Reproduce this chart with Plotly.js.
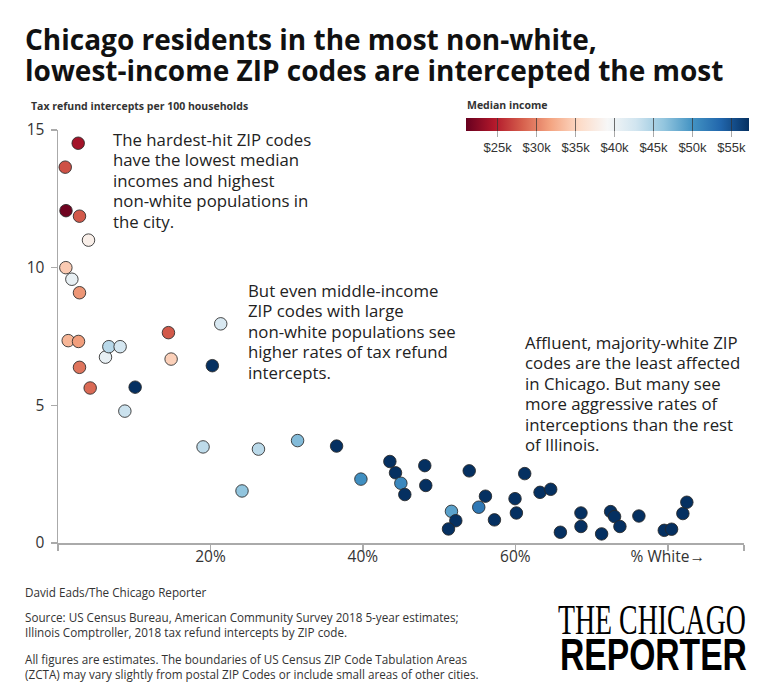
<!DOCTYPE html>
<html>
<head>
<meta charset="utf-8">
<script src="https://cdn.plot.ly/plotly-3.0.1.min.js"></script>
<style>
  html, body { margin: 0; padding: 0; background: #fff; }
  #chart { width: 771px; height: 690px; }
</style>
</head>
<body>
<div id="chart"></div>
<script>
// ---- Data ----
const pctWhite = [
  2.65, 0.95, 1.05, 2.82, 4.0, 1.03, 1.82, 2.82, 1.34, 2.69,
  2.82, 4.22, 6.23, 6.67, 8.15, 8.77, 10.12, 14.49, 14.84, 21.35,
  20.25, 19.03, 24.14, 26.3, 31.43, 36.55, 39.74, 43.54, 44.28, 44.98,
  45.5, 48.12, 48.25, 53.95, 51.62, 52.19, 51.23, 55.2, 56.08, 57.26,
  59.96, 60.14, 61.23, 63.24, 64.64, 65.91, 68.61, 68.61, 71.32, 72.5,
  73.02, 73.72, 76.21, 79.54, 80.5, 81.98, 82.5
];
const interceptsPer100 = [
  14.52, 13.65, 12.07, 11.87, 11.0, 10.0, 9.58, 9.09, 7.35, 7.32,
  6.38, 5.63, 6.75, 7.13, 7.13, 4.79, 5.66, 7.64, 6.68, 7.96,
  6.44, 3.49, 1.89, 3.41, 3.72, 3.52, 2.32, 2.96, 2.55, 2.17,
  1.76, 2.81, 2.09, 2.62, 1.15, 0.81, 0.51, 1.3, 1.70, 0.84,
  1.61, 1.09, 2.52, 1.84, 1.95, 0.39, 1.09, 0.60, 0.33, 1.14,
  0.96, 0.60, 0.98, 0.46, 0.50, 1.07, 1.48
];
const medianIncome = [
  23800, 27400, 21300, 27800, 38000, 34300, 40500, 31000, 32900, 31400,
  29250, 28700, 40500, 44100, 42300, 43000, 57200, 27800, 34700, 42000,
  57200, 43800, 46300, 44000, 47000, 57200, 50300, 57200, 57200, 50800,
  57200, 57200, 57200, 57200, 48900, 57200, 57200, 52100, 57200, 57200,
  57200, 57200, 57200, 57200, 57200, 57200, 57200, 57200, 57200, 57200,
  57200, 57200, 57200, 57200, 57200, 57200, 57200
];
const xTickVals = [0, 20, 40, 60, 80, 90];
const xTickText = ['', '20%', '40%', '60%', '% White\u2192', ''];
const yTickVals = [0, 5, 10, 15];
const incomeTickVals = [25000, 30000, 35000, 40000, 45000, 50000, 55000];
const incomeTickText = ['$25k', '$30k', '$35k', '$40k', '$45k', '$50k', '$55k'];

// ---- Layout helpers (pixel -> paper) ----
const L = 58, R = 744.5, T = 130, B = 542.7;
const W = 771, H = 690;
const px = v => (v - L) / (R - L);
const py = v => (B - v) / (B - T);

const rdbu = [
  [0.0, '#67001f'], [0.1, '#b2182b'], [0.2, '#d6604d'], [0.3, '#f4a582'],
  [0.4, '#fddbc7'], [0.5, '#f7f7f7'], [0.6, '#d1e5f0'], [0.7, '#92c5de'],
  [0.8, '#4393c3'], [0.9, '#2166ac'], [1.0, '#053061']
];

const cbBase = {
  orientation: 'h',
  xref: 'paper', yref: 'paper',
  x: px(607.5), xanchor: 'center',
  y: py(117.7), yanchor: 'top',
  len: 283, lenmode: 'pixels',
  thickness: 12.5, thicknessmode: 'pixels',
  xpad: 0, ypad: 0,
  outlinewidth: 0,
  tickmode: 'array',
  tickvals: incomeTickVals,
  ticktext: incomeTickText,
  tickwidth: 1.5,
  tickfont: { family: 'Liberation Sans, Arial, sans-serif', size: 13, color: '#333' }
};

// Legend-only layer: colour bar with outside ticks and labels (markers hidden)
const legendTrace = {
  type: 'scatter', mode: 'markers',
  x: pctWhite, y: interceptsPer100,
  hoverinfo: 'skip', cliponaxis: false,
  marker: {
    size: 12, opacity: 0, color: medianIncome, colorscale: rdbu,
    cmin: 20900, cmax: 57200, showscale: true,
    colorbar: Object.assign({}, cbBase, {
      ticks: 'outside', ticklen: 6, tickcolor: '#aaa', showticklabels: true
    })
  }
};

const trace = {
  type: 'scatter',
  mode: 'markers',
  x: pctWhite,
  y: interceptsPer100,
  cliponaxis: false,
  hoverinfo: 'skip',
  marker: {
    size: 12.5,
    color: medianIncome,
    colorscale: rdbu,
    cmin: 20900,
    cmax: 57200,
    line: { color: 'rgba(40,40,40,0.85)', width: 1 },
    showscale: true,
    colorbar: Object.assign({}, cbBase, {
      ticks: 'inside', ticklen: 12.5, tickcolor: 'rgba(50,50,50,0.7)', showticklabels: false
    })
  }
};

const textFont = { family: 'Open Sans, sans-serif', size: 16.8, color: '#222' };
const footFont = { family: 'Open Sans, sans-serif', size: 11.7, color: '#333' };

function ann(text, x, y, xanchor, yanchor, font, extra) {
  return Object.assign({
    text: text, xref: 'paper', yref: 'paper', x: x, y: y,
    xanchor: xanchor, yanchor: yanchor, align: 'left',
    showarrow: false, font: font, borderpad: 0
  }, extra || {});
}

const titleFont = { family: 'Open Sans, sans-serif', size: 28, color: '#111', weight: 700 };

const annotations = [
  ann('Chicago residents in the most non-white,', px(24), py(39), 'left', 'middle', titleFont),
  ann('lowest-income ZIP codes are intercepted the most', px(24), py(70), 'left', 'middle', titleFont),
  ann('<b>Tax refund intercepts per 100 households</b>', px(30), py(106), 'left', 'middle',
      { family: 'Open Sans, sans-serif', size: 10.5, color: '#333' }),
  ann('<b>Median income</b>', px(466), py(105), 'left', 'middle',
      { family: 'Open Sans, sans-serif', size: 10.5, color: '#333' }),
  ann('The hardest-hit ZIP codes<br>have the lowest median<br>incomes and highest<br>non-white populations in<br>the city.',
      px(112), py(127.5), 'left', 'top', textFont),
  ann('But even middle-income<br>ZIP codes with large<br>non-white populations see<br>higher rates of tax refund<br>intercepts.',
      px(247), py(277.5), 'left', 'top', textFont),
  ann('Affluent, majority-white ZIP<br>codes are the least affected<br>in Chicago. But many see<br>more aggressive rates of<br>interceptions than the rest<br>of Illinois.',
      px(524), py(329.5), 'left', 'top', textFont),
  ann('David Eads/The Chicago Reporter', px(24), py(592), 'left', 'middle', footFont),
  ann('Source: US Census Bureau, American Community Survey 2018 5-year estimates;<br>Illinois Comptroller, 2018 tax refund intercepts by ZIP code.',
      px(24), py(624.5), 'left', 'middle', footFont),
  ann('All figures are estimates. The boundaries of US Census ZIP Code Tabulation Areas<br>(ZCTA) may vary slightly from postal ZIP Codes or include small areas of other cities.',
      px(24), py(666.5), 'left', 'middle', footFont),
  ann('THE CHICAGO', px(557), py(620), 'left', 'middle',
      { family: 'Liberation Serif, serif', size: 42, color: '#000' }),
  ann('<b>REPORTER</b>', px(559), py(654), 'left', 'middle',
      { family: 'Liberation Sans, Arial, sans-serif', size: 44, color: '#000' })
];

const axisFont = { family: 'Open Sans, sans-serif', size: 15.5, color: '#333' };

const layout = {
  width: W, height: H,
  margin: { l: L, r: W - R, t: T, b: H - B, pad: 0, autoexpand: false },
  paper_bgcolor: '#fff', plot_bgcolor: '#fff',
  showlegend: false,
  xaxis: {
    range: [0, 90], tickmode: 'array', tickvals: xTickVals, ticktext: xTickText,
    ticks: 'outside', ticklen: 6, tickwidth: 1.5, tickcolor: '#aaa',
    ticklabelstandoff: -7,
    showline: true, linecolor: '#aaa', linewidth: 1.5,
    showgrid: false, zeroline: false, tickfont: axisFont, fixedrange: true
  },
  yaxis: {
    range: [0, 15], tickmode: 'array', tickvals: yTickVals,
    ticks: 'outside', ticklen: 6, tickwidth: 1.5, tickcolor: '#aaa',
    ticklabelstandoff: 3,
    showline: true, linecolor: '#aaa', linewidth: 1.5,
    showgrid: false, zeroline: false, tickfont: axisFont, fixedrange: true
  },
  annotations: annotations
};

function condense(index, targetWidth) {
  const g = document.querySelector('g.annotation[data-index="' + index + '"]');
  if (!g) return;
  const t = g.querySelector('text');
  if (!t) return;
  const bb = t.getBBox();
  if (!bb.width) return;
  const s = targetWidth / bb.width;
  const x0 = bb.x;
  t.setAttribute('transform', 'translate(' + x0 + ',0) scale(' + s + ',1) translate(' + (-x0) + ',0)');
}

function tighten(index, factor) {
  const g = document.querySelector('g.annotation[data-index="' + index + '"]');
  if (!g) return;
  g.querySelectorAll('tspan.line').forEach(ts => {
    const dy = parseFloat(ts.getAttribute('dy'));
    if (dy) ts.setAttribute('dy', (dy * factor) + 'em');
  });
}

Plotly.newPlot('chart', [legendTrace, trace], layout, { displayModeBar: false, staticPlot: true }).then(() => {
  condense(10, 188);
  condense(11, 187);
  [4, 5, 6].forEach(i => tighten(i, 1.215 / 1.3));
});
</script>
</body>
</html>
